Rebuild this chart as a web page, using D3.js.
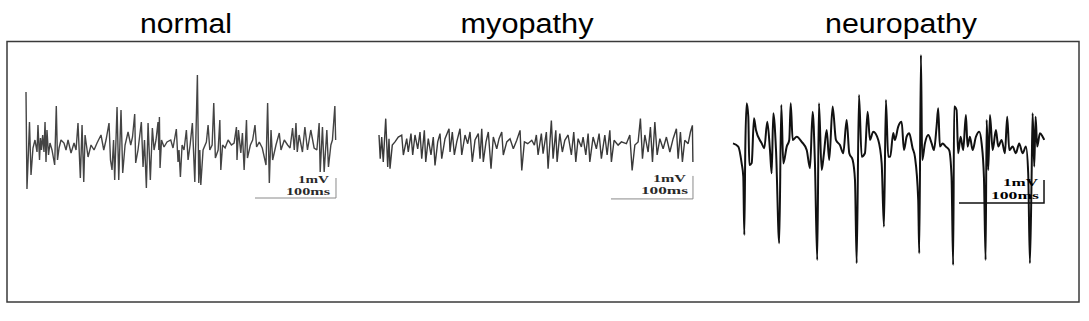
<!DOCTYPE html>
<html lang="en">
<head>
<meta charset="utf-8">
<script src="https://d3js.org/d3.v7.min.js"></script>
<title>EMG traces</title>
<style>
  body { margin: 0; background: #fff; }
</style>
</head>
<body>
<script>
// panel titles
var titles = ['normal', 'myopathy', 'neuropathy'];

// scale bar values and labels
var barMV = 1, barMS = 100;
var barLabels = ['1mV', '100ms'];

// normal trace: time (ms), amplitude (mV)
var normalT = [0,1.2,3.1,4.3,6.2,8.6,11.1,13.6,14.8,16.7,
  17.9,19.1,20.6,22.2,23.5,24.7,25.9,27.8,29.6,32.1,
  35.4,37.4,38.9,40.8,43.2,46.9,49.4,51.9,55.6,59.3,
  61.8,64.2,67.1,69.2,71.3,72.9,76.6,80.3,84.0,87.7,
  92.6,96.0,98.8,102.5,104.3,106.2,108.1,109.5,112.4,114.5,
  117.3,119.4,122.3,126.0,129.3,131.5,134.2,135.4,138.3,142.4,
  144.5,146.3,148.6,150.7,153.5,156.0,158.1,160.5,163.0,164.0,
  164.7,165.5,167.3,170.4,174.1,178.7,181.5,185.6,187.7,188.9,
  190.6,192.7,195.1,198.0,200.1,202.6,205.4,208.4,211.6,213.3,
  214.6,215.8,218.6,222.7,224.8,226.9,229.8,231.8,233.8,237.2,
  239.3,240.5,242.7,245.8,249.5,253.6,256.9,259.8,260.5,262.3,
  265.2,267.2,269.3,272.2,273.4,277.0,279.8,282.7,284.7,288.0,
  291.7,296.3,298.3,300.4,302.5,304.5,308.6,312.7,314.8,318.9,
  323.0,326.0,329.1,331.2,333.3,334.9,337.2,341.3,344.3,347.5,
  351.6,355.7,359.1,361.9,363.2,366.0,368.1,371.4,373.4,376.4,
  378.3,381.3,382.3];
var normalV = [2.75,-2.1,-0.15,1.25,-1.4,-0.05,0.35,-0.25,1.1,-0.65,
  0.45,-0.15,0.6,-0.25,1.25,-0.75,0.85,-0.4,0.2,-0.15,
  -0.9,2.05,-0.65,-0.05,0.35,0.2,-0.15,0.35,-0.3,0.2,
  -0.15,1.2,-1.55,1.1,-1.75,0.6,-0.5,0.1,-0.15,0.2,
  0.6,-0.15,0.35,1.2,-0.65,-1.15,0.35,-1.65,2.0,-1.65,
  1.85,-1.3,0.1,0.75,0.1,0.5,1.65,-0.8,-0.15,1.25,
  -1.0,0.35,-2.05,1.2,-1.65,0.95,-0.15,0.35,1.25,-0.15,
  1.5,-1.05,0.35,0,0.25,0.35,-0.05,0.9,-0.75,-0.15,
  -1.5,0.1,-0.15,0.85,-0.65,0.1,1.2,-1.75,3.6,-1.8,
  -0.15,-1.9,-0.15,0.25,1.1,-0.15,0.1,2.2,-0.55,-0.15,
  1.35,-1.15,0.1,-0.05,0.35,0.1,0.2,1.0,-0.65,0.85,
  -0.3,0.7,-1.15,1.35,-0.55,0.1,0.35,1.1,0,0.25,
  -0.05,-0.9,2.2,-1.8,0.85,-0.65,0.1,0.7,-0.15,0.35,
  0.1,-0.05,0.95,-0.15,1.2,-0.25,0.6,-0.25,1.0,-0.15,
  0.85,-0.05,-0.15,1.2,-1.25,1.0,-1.25,0.85,-1.0,0.1,
  0.35,2.05,0.35];

// myopathy trace
var myopathyT = [0,1.5,3.3,5.2,8.2,10.6,12.2,13.4,16.2,19.5,
  23.5,27.7,29.7,33.8,35.7,39.0,41.1,43.9,47.2,50.0,
  52.1,55.3,57.0,60.1,63.4,66.2,68.3,71.6,74.4,76.5,
  80.5,85.4,86.6,89.4,91.9,94.8,98.8,100.9,104.9,108.2,
  111.0,113.8,117.1,121.1,123.2,125.3,127.2,130.5,133.3,136.6,
  139.4,143.6,146.4,149.7,151.6,155.8,159.8,163.8,168.0,172.0,
  174.1,177.3,181.4,186.3,189.5,
  191.9,194.0,198.0,200.1,204.1,206.2,210.2,212.3,215.6,217.2,
  220.5,223.6,226.6,230.6,234.6,237.5,240.0,242.8,246.8,248.9,
  252.2,255.0,257.1,261.1,265.1,268.4,271.2,275.4,278.2,281.5,
  283.4,286.7,291.6,295.6,301.7,305.9,308.7,312.0,316.0,318.8,
  321.3,324.2,328.2,331.0,333.5,336.4,339.2,342.5,346.5,350.5,
  354.7,358.7,362.7,364.8,367.6,370.0,372.9,377.0,379.8,382.2,
  382.8];
var myopathyV = [0.37,-0.66,0.28,-0.8,1.08,-1.02,0.21,-1.1,-0.07,0.07,
  0.28,0.36,-0.5,0.21,-0.37,0.43,-0.5,0.37,-0.23,0.5,
  -0.66,0.57,-0.8,0.21,-0.5,0.28,-0.95,0.07,0.43,-0.66,
  0.21,0.64,-0.37,0.5,-0.5,0.07,0.64,-0.5,0.37,-0.01,
  0.5,-0.8,0.15,0.43,-0.66,0.64,-0.8,0.07,0.5,-1.1,
  0.28,-0.23,0.21,0.5,-0.5,0.07,0.21,-0.23,0.14,0.57,
  -1.17,0.07,-0.01,0.14,-0.07,
  0.37,-0.5,0.43,-0.44,0.5,-1.1,1.0,-0.66,0.57,-0.8,
  0.43,-0.37,0.14,0.37,-0.5,0.5,-0.8,0.21,-0.15,0.28,
  -0.5,0.43,-0.8,0.28,-0.23,0.43,-0.66,0.37,-0.5,0.57,
  -0.8,0.14,-0.07,0.07,-0.01,0.37,-1.17,-0.07,0.07,1.08,
  -0.66,0.37,-0.37,0.72,-0.8,0.93,-0.5,0.21,-0.23,0.28,
  -0.37,0.21,0.64,-0.66,0.5,-0.8,0.14,-0.01,0.5,0.79,
  -0.8];

// neuropathy trace
var neuropathyT = [0,6.2,10.2,12.1,13.3,14.5,16.1,18.0,19.2,22.0,
  24.7,27.0,33.8,36.8,40.3,43.5,45.5,47.4,50.6,54.4,
  56.8,59.2,63.2,66.2,67.9,70.2,74.9,80.8,86.7,90.6,
  93.7,96.4,99.1,101.1,104.3,107.0,110.2,113.2,117.2,121.1,
  125.8,129.7,133.7,136.8,140.8,143.5,145.5,148.2,151.4,155.2,
  158.4,161.1,165.0,170.9,174.9,177.6,179.9,182.6,185.0,188.5,
  190.5,194.4,198.4,201.1,204.3,207.3,211.3,214.0,217.9,219.1,
  221.1,222.6,225.8,229.7,233.7,236.4,239.5,241.4,243.4,246.6,
  250.4,254.3,257.1,259.0,260.2,263.0,264.9,267.8,270.8,274.0,
  276.0,278.7,281.9,285.8,289.7,292.5,295.2,297.2,298.4,300.3,
  302.3,305.5,309.3,312.1,316.0,319.9,322.6,325.0,329.0,332.8,
  336.7,340.7,344.6,347.3,349.3,351.3,352.5,354.4,356.0,357.9,
  361.1,364.3,366.2];
var neuropathyV = [0.07,-0.07,-0.8,-1.38,-3.91,-0.07,1.81,1.23,-0.87,-0.78,
  1.16,0.65,0.07,-0.14,1.01,-0.22,-1.23,1.38,-0.22,-4.27,
  1.74,-0.8,-0.07,0.22,1.81,0.22,0.36,0.14,-0.22,-1.01,
  1.45,-0.8,-5.0,1.81,-1.09,-0.36,0.65,-0.65,1.67,0.22,
  0,-0.36,1.09,-0.36,-0.65,-1.52,-5.14,2.17,-0.51,-0.36,
  1.45,0.22,0.58,0.22,-0.8,-3.55,1.96,-0.51,-0.51,0.52,
  0.22,0.8,1.01,-0.22,0.36,0.51,-0.14,-0.51,-2.39,-4.71,
  3.91,-0.65,0.07,0.43,0.07,-0.22,0.8,1.6,-0.07,0.07,
  -0.07,-0.22,-1.38,-5.22,1.67,1.52,-0.36,0.36,-0.22,1.3,
  -0.07,0.36,-0.22,0.36,0.58,0.07,-1.38,-5.0,1.09,-1.09,
  1.3,-0.22,0.65,-0.07,0.22,-0.36,1.23,-0.22,-0.07,-0.36,
  0.07,-0.36,-0.07,-1.23,-5.14,-1.38,1.38,-0.94,1.23,-0.07,
  0.51,0.36,0.22];

var width = 1089, height = 321;

// layout of each panel (pixels) and where its scale bar corner sits (ms, mV)
var panels = [
  {title: titles[0], t: normalT, v: normalV, x0: 26, pxMs: 0.81, y0: 147, pxMV: 20,
   color: '#444', sw: 1.4, curve: d3.curveLinear, barT: 382.7, barV: -2.55,
   barColor: '#8a8a8a', barW: 1, labColor: '#2a2a2a', lab1: [31, 15, 7], lab2: [44, 3.5, 6], titleX: 186, titleW: 92},
  {title: titles[1], t: myopathyT, v: myopathyV, x0: 379, pxMs: 0.82, y0: 143.5, pxMV: 23,
   color: '#3a3a3a', sw: 1.4, curve: d3.curveLinear, barT: 382.9, barV: -2.41,
   barColor: '#8a8a8a', barW: 1, labColor: '#2a2a2a', lab1: [33, 16.5, 7], lab2: [47, 4.5, 5], titleX: 527, titleW: 133},
  {title: titles[2], t: neuropathyT, v: neuropathyV, x0: 733, pxMs: 0.85, y0: 145, pxMV: 23,
   color: '#111', sw: 2, curve: d3.curveMonotoneX, barT: 365.9, barV: -2.52,
   barColor: '#111', barW: 1.5, labColor: '#000', lab1: [35, 16.5, 6], lab2: [48, 3.5, 5], titleX: 901, titleW: 152}
];

var svg = d3.select('body')
  .append('svg')
  .attr('width', width)
  .attr('height', height);

svg.append('rect')
  .attr('width', width).attr('height', height)
  .attr('fill', '#fff');

// frame
svg.append('rect')
  .attr('x', 7).attr('y', 41.5)
  .attr('width', 1072).attr('height', 260.5)
  .attr('fill', 'none')
  .attr('stroke', '#3a3a3a')
  .attr('stroke-width', 1.5);

panels.forEach(function(p) {
  var x = d3.scaleLinear().domain([0, 100]).range([p.x0, p.x0 + 100 * p.pxMs]);
  var y = d3.scaleLinear().domain([0, 1]).range([p.y0, p.y0 - p.pxMV]);

  // title
  svg.append('text')
    .attr('x', p.titleX - p.titleW / 2)
    .attr('y', 33)
    .attr('textLength', p.titleW)
    .attr('lengthAdjust', 'spacingAndGlyphs')
    .attr('font-family', 'Liberation Sans, Arial, sans-serif')
    .attr('font-size', 27)
    .attr('fill', '#000')
    .text(p.title);

  // trace
  var pts = d3.zip(p.t, p.v);
  var line = d3.line()
    .x(function(d) { return x(d[0]); })
    .y(function(d) { return y(d[1]); })
    .curve(p.curve);

  svg.append('path')
    .datum(pts)
    .attr('d', line)
    .attr('fill', 'none')
    .attr('stroke', p.color)
    .attr('stroke-width', p.sw)
    .attr('stroke-linejoin', 'miter')
    .attr('stroke-miterlimit', 2);

  // scale bar: 100 ms horizontal, 1 mV vertical
  var bx1 = x(p.barT), bx0 = x(p.barT - barMS);
  var by0 = y(p.barV), by1 = y(p.barV + barMV);
  svg.append('path')
    .attr('d', 'M' + bx0 + ',' + by0 + 'H' + bx1 + 'V' + by1)
    .attr('fill', 'none')
    .attr('stroke', p.barColor)
    .attr('stroke-width', p.barW);

  [p.lab1, p.lab2].forEach(function(l, i) {
    svg.append('text')
      .attr('x', bx1 - l[2] - l[0])
      .attr('y', by0 - l[1])
      .attr('textLength', l[0])
      .attr('lengthAdjust', 'spacingAndGlyphs')
      .attr('font-family', 'Liberation Serif, Times New Roman, serif')
      .attr('font-weight', 'bold')
      .attr('font-size', 9.5)
      .attr('fill', p.labColor)
      .text(barLabels[i]);
  });
});
</script>
</body>
</html>
